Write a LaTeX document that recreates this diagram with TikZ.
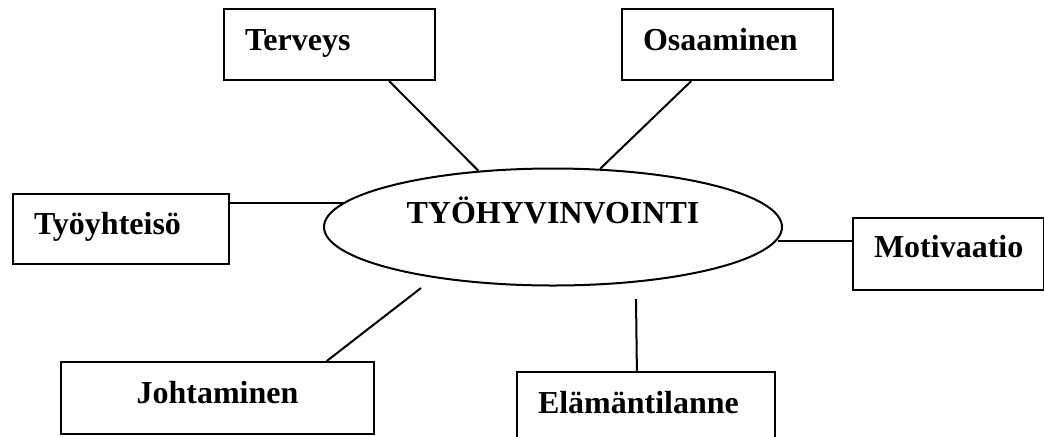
\documentclass[tikz,border=0pt]{standalone}
\usepackage{fontspec}
\setmainfont{Liberation Serif}
\usetikzlibrary{shapes.geometric}
\usetikzlibrary{calc}

\begin{document}
\begin{tikzpicture}[x=.5pt,y=-.5pt,line width=1pt,
    laatikko/.style={draw, rectangle, anchor=north west, inner xsep=10.5pt, inner ysep=0pt,
        text height=20.5pt, text depth=15.5pt, align=left, font=\fontsize{16}{19}\selectfont\bfseries},
    keskus/.style={draw, ellipse, minimum width=229pt, minimum height=58.5pt, inner sep=0pt,
        text height=10.5pt, text depth=14.5pt, font=\fontsize{16}{19}\selectfont\bfseries}]
    \clip (0,0) rectangle (1044,436);
    % ellipsi
    \node[keskus] (hub) at (553,227) {TYÖHYVINVOINTI};
    % laatikot
    \node[laatikko, text width=84.5pt, text depth=15pt] (terveys) at (223,8) {Terveys};
    \node[laatikko, text width=84.5pt, text depth=15pt] (osaaminen) at (621,8) {Osaaminen};
    \node[laatikko, text width=87pt, text height=20pt, text depth=15pt] (tyoyhteiso) at (12,193) {Työyhteisö};
    \node[laatikko, text width=74.5pt, text height=19.5pt, text depth=16.5pt] (motivaatio) at (852,217) {Motivaatio};
    \node[laatikko, text width=135.5pt, align=center] (johtaminen) at (60,361) {Johtaminen};
    \node[laatikko, text width=108pt, text depth=40pt] (elamantilanne) at (516,371) {Elämäntilanne};
    % viivat
    \coordinate (tyopaa) at ($(tyoyhteiso.north east)!.14!(tyoyhteiso.south east)$);
    \coordinate (motpaa) at ($(motivaatio.north west)!.33!(motivaatio.south west)$);
    \coordinate (johtpaa) at (421,288);
    \coordinate (elampaa) at (636,299);
    \draw ($(terveys.south west)!.78!(terveys.south east)$) -- (hub.143);
    \draw ($(osaaminen.south west)!.33!(osaaminen.south east)$) -- (hub.51);
    \draw (tyopaa) -- (tyopaa -| hub.173.5);
    \draw (motpaa -| hub.-3.5) -- (motpaa);
    \draw ($(johtaminen.north west)!.847!(johtaminen.north east)$) -- (johtpaa);
    \draw ($(elamantilanne.north west)!.465!(elamantilanne.north east)$) -- (elampaa);
\end{tikzpicture}
\end{document}
